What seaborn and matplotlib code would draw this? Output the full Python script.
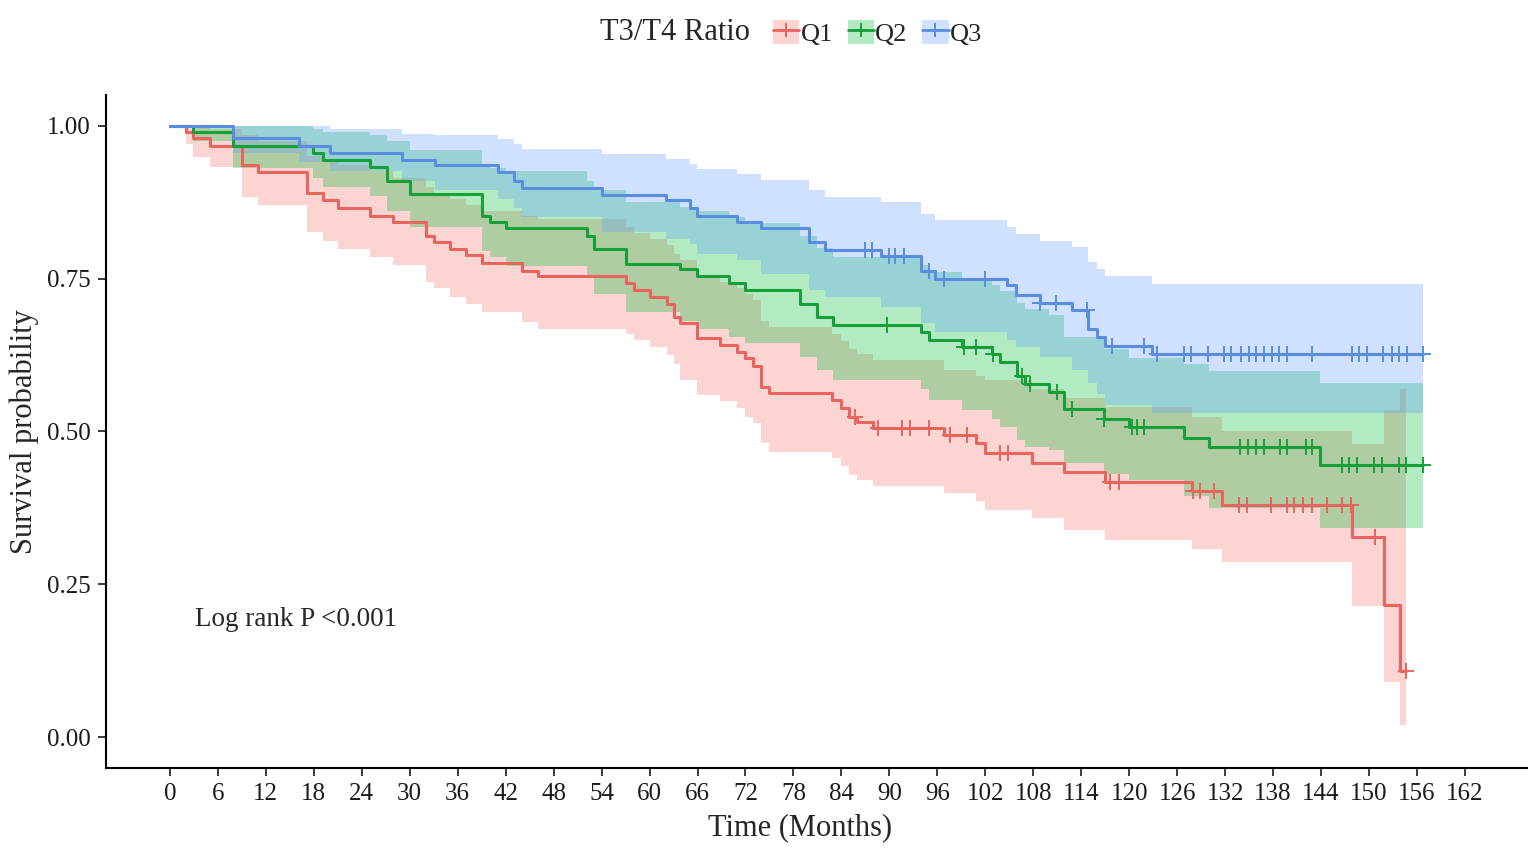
import numpy as np
import pandas as pd
import matplotlib
matplotlib.use("Agg")
import matplotlib.pyplot as plt
import seaborn as sns
from matplotlib.patches import Patch
from matplotlib.lines import Line2D

# ---- data (months, survival, 95% CI) ----
q1_time = [0, 2, 2.9, 5, 9, 11, 17.1, 19.2, 21, 25, 27.9, 32.1, 33, 35, 37.1, 39, 44, 46,
           57, 58, 60, 62.2, 63, 63.8, 65.9, 68.8, 70.9, 72, 73, 74, 75, 82.8, 83.9, 84.9,
           85.9, 88, 96.8, 100.8, 102, 107.8, 111.8, 117, 127.9, 131.6, 147.9, 151.9, 153.9]
q1_surv = [1.0, 0.99, 0.979, 0.967, 0.935, 0.924, 0.889, 0.878, 0.866, 0.853, 0.842, 0.82,
           0.81, 0.799, 0.788, 0.775, 0.763, 0.754, 0.742, 0.731, 0.72, 0.709, 0.687, 0.677,
           0.652, 0.641, 0.63, 0.62, 0.607, 0.573, 0.563, 0.551, 0.538, 0.524, 0.516, 0.505,
           0.494, 0.481, 0.465, 0.449, 0.434, 0.418, 0.402, 0.38, 0.328, 0.217, 0.108]
q1_lower = [1.0, 0.97, 0.948, 0.932, 0.883, 0.87, 0.826, 0.812, 0.799, 0.785, 0.772, 0.744,
            0.734, 0.72, 0.709, 0.695, 0.679, 0.668, 0.66, 0.649, 0.638, 0.625, 0.61, 0.584,
            0.56, 0.549, 0.538, 0.524, 0.513, 0.481, 0.467, 0.456, 0.443, 0.429, 0.421, 0.411,
            0.399, 0.386, 0.371, 0.358, 0.339, 0.323, 0.307, 0.286, 0.215, 0.09, 0.02]
q1_upper = [1.0, 1.0, 1.0, 0.995, 0.985, 0.975, 0.95, 0.94, 0.935, 0.925, 0.915, 0.9,
            0.89, 0.88, 0.87, 0.86, 0.852, 0.848, 0.835, 0.825, 0.815, 0.805, 0.79, 0.78,
            0.755, 0.745, 0.735, 0.725, 0.715, 0.68, 0.67, 0.66, 0.648, 0.635, 0.627, 0.617,
            0.6, 0.59, 0.584, 0.57, 0.555, 0.54, 0.524, 0.5, 0.48, 0.535, 0.57]
q1_end = 154.6
q1_censor = [85.7, 88.6, 91.6, 92.6, 94.9, 97.6, 99.7, 103.9, 104.9, 117.6, 118.7, 128.0,
             128.9, 130.6, 133.7, 134.7, 137.7, 139.8, 140.6, 141.8, 142.9, 144.8, 146.6,
             147.7, 150.8, 154.6]

q2_time = [0, 2.9, 7.9, 17.9, 19.2, 25, 27.1, 30, 39, 40, 42.1, 52.2, 53, 57, 63.8, 65.9,
           69.9, 72, 78.8, 80.9, 83, 93.9, 94.9, 99.1, 102.8, 103.9, 106, 107, 110, 111.8,
           116.8, 120, 126.8, 130, 143.9]
q2_surv = [1.0, 0.989, 0.967, 0.956, 0.943, 0.932, 0.91, 0.888, 0.853, 0.842, 0.832, 0.82,
           0.799, 0.774, 0.765, 0.754, 0.742, 0.731, 0.709, 0.687, 0.674, 0.663, 0.65, 0.638,
           0.626, 0.614, 0.59, 0.578, 0.565, 0.536, 0.521, 0.508, 0.49, 0.474, 0.445]
q2_lower = [1.0, 0.975, 0.93, 0.915, 0.9, 0.885, 0.86, 0.835, 0.795, 0.785, 0.77, 0.755,
            0.725, 0.695, 0.68, 0.668, 0.655, 0.644, 0.622, 0.6, 0.584, 0.57, 0.551, 0.535,
            0.52, 0.508, 0.486, 0.475, 0.47, 0.448, 0.43, 0.421, 0.394, 0.375, 0.342]
q2_upper = [1.0, 1.0, 1.0, 0.995, 0.99, 0.985, 0.975, 0.96, 0.935, 0.93, 0.925, 0.91,
            0.894, 0.875, 0.867, 0.86, 0.85, 0.84, 0.82, 0.8, 0.785, 0.772, 0.76, 0.75,
            0.74, 0.73, 0.71, 0.7, 0.69, 0.655, 0.635, 0.62, 0.611, 0.598, 0.579]
q2_end = 156.8
q2_censor = [89.7, 99.3, 100.8, 103.0, 106.6, 107.6, 111.0, 112.9, 116.8, 120.3, 121.0,
             121.8, 133.9, 134.8, 135.9, 136.9, 138.9, 139.8, 142.1, 142.9, 146.6, 147.5,
             148.5, 150.6, 151.6, 153.7, 154.6, 156.7]

q3_time = [0, 7.9, 16.1, 20, 29, 33.2, 41.1, 43, 44, 54, 62, 65, 65.9, 70.9, 74, 79.9, 82,
           88.9, 93.9, 95.7, 104.7, 105.8, 108.9, 112.9, 114.9, 116, 117, 122.9]
q3_surv = [1.0, 0.979, 0.967, 0.956, 0.944, 0.935, 0.924, 0.91, 0.898, 0.887, 0.878, 0.866,
           0.853, 0.842, 0.832, 0.81, 0.797, 0.786, 0.763, 0.75, 0.739, 0.723, 0.71, 0.698,
           0.668, 0.655, 0.639, 0.626]
q3_lower = [1.0, 0.955, 0.94, 0.925, 0.91, 0.895, 0.88, 0.865, 0.85, 0.826, 0.815, 0.807,
            0.79, 0.78, 0.758, 0.731, 0.72, 0.704, 0.677, 0.663, 0.649, 0.638, 0.622, 0.6,
            0.579, 0.562, 0.543, 0.53]
q3_upper = [1.0, 1.0, 1.0, 0.994, 0.986, 0.984, 0.978, 0.97, 0.962, 0.954, 0.946, 0.937,
            0.929, 0.921, 0.911, 0.894, 0.883, 0.875, 0.856, 0.845, 0.834, 0.823, 0.812,
            0.801, 0.777, 0.766, 0.754, 0.741]
q3_end = 156.7
q3_censor = [87.0, 87.8, 89.9, 90.7, 91.8, 94.9, 96.8, 102.0, 108.9, 110.8, 114.7, 117.9,
             121.8, 123.5, 126.8, 127.7, 129.8, 131.8, 132.7, 134.0, 135.0, 135.9, 136.9,
             137.9, 138.8, 139.8, 142.9, 147.9, 148.7, 149.8, 151.8, 152.9, 153.8, 154.8,
             156.7]

group_names = ["Q1", "Q2", "Q3"]
x_ticks = list(range(0, 163, 6))
y_ticks = [0.0, 0.25, 0.5, 0.75, 1.0]

line_colors = ["#E8645E", "#17A03A", "#5A8DE0"]
fill_colors = ["#F8766D", "#00BA38", "#619CFF"]

groups = [
    (q1_time, q1_surv, q1_lower, q1_upper, q1_end, q1_censor),
    (q2_time, q2_surv, q2_lower, q2_upper, q2_end, q2_censor),
    (q3_time, q3_surv, q3_lower, q3_upper, q3_end, q3_censor),
]

sns.set_style("white")
plt.rcParams["font.family"] = ["Liberation Serif", "DejaVu Serif"]

fig = plt.figure(figsize=(15.35, 8.56), dpi=100)
ax = fig.add_axes([0.069, 0.103, 0.926, 0.786])

# confidence bands
for (t, s, lo, up, end, cens), fc in zip(groups, fill_colors):
    tt = np.append(t, end)
    ax.fill_between(tt, np.append(lo, lo[-1]), np.append(up, up[-1]),
                    step="post", color=fc, alpha=0.3, lw=0)

# survival curves
rows = []
for name, (t, s, lo, up, end, cens) in zip(group_names, groups):
    for ti, si in zip(list(t) + [end], list(s) + [s[-1]]):
        rows.append({"time": ti, "surv": si, "group": name})
df = pd.DataFrame(rows)
sns.lineplot(data=df, x="time", y="surv", hue="group", palette=line_colors,
             drawstyle="steps-post", estimator=None, linewidth=2.2, legend=False, ax=ax)

# censoring marks
for (t, s, lo, up, end, cens), lc in zip(groups, line_colors):
    idx = np.searchsorted(t, cens, side="right") - 1
    ax.plot(cens, np.asarray(s)[idx], linestyle="none", marker="+",
            markersize=11, markeredgewidth=1.4, color=lc)

ax.set_xlim(-8, 169.8)
ax.set_ylim(-0.05, 1.05)
ax.set_xticks(x_ticks)
ax.set_yticks(y_ticks)
ax.set_yticklabels([f"{v:.2f}" for v in y_ticks])
ax.tick_params(axis="both", labelsize=18, colors="#1a1a1a", length=6, width=1.2,
               direction="out", bottom=True, left=True, pad=5)
for side in ["top", "right"]:
    ax.spines[side].set_visible(False)
for side in ["left", "bottom"]:
    ax.spines[side].set_color("black")
    ax.spines[side].set_linewidth(1.5)

ax.set_xlabel("Time (Months)", fontsize=22)
ax.set_ylabel("Survival probability", fontsize=22)
ax.xaxis.set_label_coords(0.488, -0.068)
ax.yaxis.set_label_coords(-0.047, 0.5)

ax.text(3.1, 0.193, "Log rank P <0.001", fontsize=19.5, va="center", ha="left")

# legend on top
fig.text(600 / 1535, 1 - 33 / 856, "T3/T4 Ratio", fontsize=22, va="center", ha="left")
handles = [(Patch(facecolor=fc, alpha=0.3, edgecolor="none"),
            Line2D([], [], color=lc, lw=2, marker="+", markersize=10, markeredgewidth=1.4))
           for fc, lc in zip(fill_colors, line_colors)]
fig.legend(handles, group_names, loc="center left",
           bbox_to_anchor=(773 / 1535, 1 - 33 / 856), ncol=3, frameon=False, fontsize=19,
           handlelength=1.0, handleheight=1.0, handletextpad=0.05, columnspacing=0.55,
           borderpad=0, borderaxespad=0)

fig.savefig("out.png", dpi=100)
